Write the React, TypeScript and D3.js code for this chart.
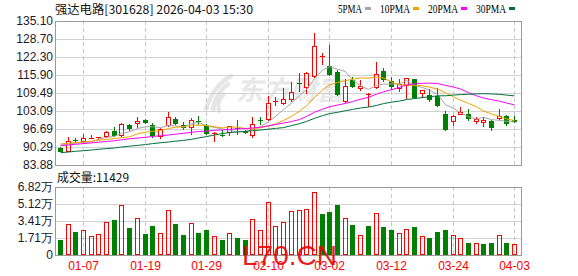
import React from "react";
import * as d3 from "d3";

const title = "强达电路[301628] 2026-04-03 15:30";
const volumeTitle = "成交量:11429";
const watermark = "东方财富";
const siteMark = "L70.CN";

const dates = [
  "12-31",
  "01-05", "01-06", "01-07", "01-08", "01-09",
  "01-12", "01-13", "01-14", "01-15", "01-16",
  "01-19", "01-20", "01-21", "01-22", "01-23",
  "01-26", "01-27", "01-28", "01-29", "01-30",
  "02-02", "02-03", "02-04", "02-05", "02-06",
  "02-09", "02-10", "02-11", "02-12", "02-13",
  "02-24", "02-25", "02-26", "02-27",
  "03-02", "03-03", "03-04", "03-05", "03-06",
  "03-09", "03-10", "03-11", "03-12", "03-13",
  "03-16", "03-17", "03-18", "03-19", "03-20",
  "03-23", "03-24", "03-25", "03-26", "03-27",
  "03-30", "03-31", "04-01", "04-02", "04-03",
];

const opens = [
  90.0, 88.6, 92.8, 91.95, 93.5, 93.6, 93.95, 96.0, 94.3, 98.1,
  98.5, 99.8, 98.0, 93.7, 97.9, 100.2, 98.1, 96.9, 99.5, 97.75,
  94.9, 94.5, 95.2, 96.9, 95.8, 94.3, 100.0, 99.9, 106.2, 105.6,
  107.0, 113.1, 111.2, 115.3, 122.2, 119.1, 117.1, 106.2, 114.1, 110.9,
  109.0, 111.2, 117.3, 113.8, 110.9, 112.1, 114.4, 109.0, 108.8, 108.5,
  101.9, 99.3, 101.8, 101.9, 99.1, 98.7, 99.5, 100.2, 101.3, 99.9,
];
const highs = [
  90.3, 93.7, 93.4, 94.8, 94.5, 94.0, 96.0, 97.5, 98.7, 98.4,
  101.0, 100.3, 98.7, 96.9, 102.6, 100.9, 99.0, 100.5, 101.4, 98.5,
  95.6, 96.3, 97.9, 99.9, 96.4, 101.0, 101.0, 108.4, 108.2, 111.2,
  113.5, 116.5, 117.1, 130.7, 123.6, 126.6, 117.7, 114.4, 115.3, 114.1,
  109.6, 120.6, 118.3, 115.3, 114.4, 114.8, 114.6, 110.6, 110.8, 111.2,
  103.1, 101.5, 104.5, 103.7, 101.1, 101.1, 99.8, 103.7, 101.6, 101.3,
];
const lows = [
  88.4, 88.4, 91.6, 91.35, 93.0, 92.8, 93.4, 93.95, 93.7, 96.0,
  97.0, 98.4, 93.6, 93.1, 97.5, 98.0, 96.3, 94.55, 98.2, 94.55,
  92.0, 93.9, 94.3, 94.6, 95.0, 93.6, 98.1, 99.5, 105.0, 105.2,
  106.4, 110.0, 109.1, 114.7, 119.5, 115.5, 108.4, 106.0, 111.2, 110.3,
  104.4, 111.0, 113.5, 110.6, 110.0, 107.4, 107.4, 107.6, 106.4, 104.4,
  95.8, 97.75, 101.7, 99.65, 98.5, 97.4, 95.8, 99.9, 97.9, 98.7,
];
const closes = [
  88.6, 92.5, 92.3, 93.4, 93.65, 93.75, 95.5, 94.2, 98.45, 96.6,
  99.5, 98.7, 94.3, 96.6, 100.8, 98.5, 96.9, 99.9, 99.1, 95.0,
  95.2, 94.2, 97.6, 96.6, 95.3, 98.5, 99.8, 105.8, 106.5, 107.4,
  110.0, 112.9, 116.5, 126.2, 122.5, 115.9, 108.8, 112.0, 111.7, 111.95,
  109.2, 116.25, 114.1, 111.7, 112.6, 114.7, 107.8, 110.5, 107.0, 105.0,
  96.3, 101.4, 102.6, 100.1, 100.3, 99.9, 97.15, 101.3, 98.5, 99.1,
];
// volume in 万
const volumes = [
  1.52, 3.08, 2.32, 2.52, 1.89, 2.09, 3.28, 3.51, 4.97, 2.72,
  3.68, 2.12, 2.91, 2.19, 4.47, 3.11, 2.02, 3.18, 2.22, 2.52,
  1.89, 1.52, 2.19, 1.72, 1.52, 3.58, 2.48, 5.36, 2.88, 3.28,
  4.37, 4.47, 4.57, 6.36, 4.11, 4.3, 5.0, 3.68, 3.01, 1.99,
  2.91, 4.17, 2.81, 2.52, 2.19, 2.58, 2.81, 1.89, 1.72, 2.32,
  2.52, 1.99, 1.69, 1.23, 1.19, 1.13, 1.23, 1.99, 1.23, 1.14,
];

const ma5 = [
  91.0, 91.3, 91.6, 91.9, 92.09, 93.12, 93.72, 94.1, 95.11, 95.7,
  96.85, 97.49, 97.51, 97.14, 97.98, 97.78, 97.42, 98.54, 99.04, 97.88,
  97.22, 96.68, 96.22, 95.72, 95.78, 96.44, 97.56, 99.2, 101.18, 103.6,
  105.9, 108.52, 110.66, 114.6, 117.62, 118.8, 117.98, 117.08, 114.18, 112.07,
  110.73, 112.22, 112.64, 112.64, 112.77, 113.87, 112.18, 111.46, 110.52, 109.0,
  105.32, 104.04, 102.46, 101.08, 100.14, 100.86, 100.01, 99.75, 99.43, 99.19,
];
const ma10 = [
  91.35, 91.6, 91.85, 92.1, 92.35, 92.67, 93.0, 93.3, 93.6, 93.9,
  94.99, 95.6, 95.8, 96.13, 96.84, 97.32, 97.46, 98.03, 98.09, 97.93,
  97.5, 97.05, 97.38, 97.38, 96.83, 96.83, 97.12, 97.71, 98.45, 99.69,
  101.17, 103.04, 104.93, 107.89, 110.61, 112.35, 113.25, 113.87, 114.39, 114.85,
  114.77, 115.1, 114.86, 113.41, 112.42, 112.3, 112.2, 112.05, 111.58, 110.89,
  109.6, 108.11, 106.96, 105.8, 104.57, 103.09, 102.03, 101.1, 100.26, 99.67,
];
const ma20 = [
  90.74, 90.99, 91.24, 91.49, 91.74, 91.99, 92.24, 92.52, 92.84, 93.2,
  93.48, 93.73, 94.02, 94.3, 94.55, 94.84, 95.16, 95.51, 95.8, 95.91,
  96.24, 96.33, 96.59, 96.75, 96.84, 97.07, 97.29, 97.87, 98.27, 98.81,
  99.34, 100.05, 101.16, 102.64, 103.72, 104.59, 105.19, 105.79, 106.42, 107.27,
  107.97, 109.07, 109.9, 110.65, 111.52, 112.33, 112.73, 112.96, 112.99, 112.87,
  112.18, 111.61, 110.91, 109.61, 108.5, 107.7, 107.11, 106.58, 105.92, 105.28,
];
const ma30 = [
  88.25, 88.5, 88.75, 88.97, 89.21, 89.46, 89.71, 89.93, 90.28, 90.57,
  90.85, 91.14, 91.49, 91.78, 92.06, 92.35, 92.63, 93.02, 93.49, 93.98,
  94.55, 95.08, 95.4, 95.62, 95.83, 96.08, 96.33, 96.62, 96.9, 97.17,
  97.89, 98.57, 99.37, 100.47, 101.43, 102.17, 102.61, 103.2, 103.64, 104.16,
  104.48, 105.06, 105.72, 106.23, 106.62, 107.16, 107.52, 107.88, 108.14, 108.47,
  108.51, 108.75, 108.92, 109.03, 109.2, 109.25, 109.16, 109.01, 108.74, 108.47,
];

const maNames = ["5PMA", "10PMA", "20PMA", "30PMA"];
const maSeries = [ma5, ma10, ma20, ma30];
const maColors = ["#a6a6a6", "#f2a100", "#ff00ff", "#00703a"];

const priceTickLabels = ["135.10", "128.70", "122.30", "115.90", "109.49", "103.09", "96.69", "90.29", "83.88"];
const volTickLabels = ["6.82万", "5.12万", "3.41万", "1.71万", "0"];
const volTickValues = [6.82, 5.115, 3.41, 1.705, 0];
const xTickLabels = ["01-07", "01-19", "01-29", "02-10", "03-02", "03-12", "03-24", "04-03"];

const UP = "#ff0000";
const DOWN = "#008000";

export default function App() {
  const W = 578, H = 276;
  const left = 55, right = 522;
  const mainTop = 21, mainBottom = 165;
  const volTop = 187, volBottom = 255;

  const x = d3.scaleBand<string>().domain(dates).range([56.45, 518.45]);
  const cx = (i: number) => Math.round((x(dates[i]) as number) + x.bandwidth() / 2 - 0.5);
  const y = d3.scaleLinear().domain([83.88, 135.1]).range([mainBottom, mainTop]);
  const yv = d3.scaleLinear().domain([0, 6.82]).range([volBottom, volTop]);

  const line = (arr: number[]) =>
    d3.line<number>().x((_, i) => cx(i) + 0.5).y((v) => y(v))(arr) as string;

  const sans = "'Liberation Sans', Arial, sans-serif";
  const cjk = "'Noto Sans CJK SC', sans-serif";

  // legend layout
  let lx = 338;
  const legend = maNames.map((name, k) => {
    const tw = name.length * 6;
    const item = { name, x: lx, tw, bx: lx + tw + 3, color: maColors[k] };
    lx = lx + tw + 3 + 6 + 9;
    return item;
  });

  return (
    <svg
      width={W}
      height={H}
      viewBox={`0 0 ${W} ${H}`}
      style={{ position: "absolute", left: 0, top: 0, background: "#fff" }}
    >
      <rect x={0} y={0} width={W} height={H} fill="#fff" />

      {/* Title */}
      <text x={55} y={13.5} fontFamily={cjk} fontSize={12} fill="#111" textLength={198} lengthAdjust="spacingAndGlyphs">
        {title}
      </text>

      {/* Legend */}
      {legend.map((it) => (
        <g key={it.name}>
          <text x={it.x} y={12.5} fontFamily="'Liberation Serif', serif" fontSize={12.5} fill="#000" textLength={it.tw} lengthAdjust="spacingAndGlyphs">
            {it.name}
          </text>
          <rect x={it.bx} y={7} width={6} height={3} fill={it.color} />
        </g>
      ))}

      {/* Watermark */}
      <g fill="none" stroke="#e6e6e6" strokeLinecap="round">
        <path d="M231,76 C220,82 210,94 206,110" strokeWidth={4.5} />
        <path d="M228,84 C220,90 214,100 213,110" strokeWidth={4.5} />
        <path d="M224,94 C219,99 217,104 219,111" strokeWidth={4} />
      </g>
      <text x={236} y={100} fontFamily={cjk} fontSize={27} fontWeight="bold" fontStyle="italic" fill="#e8e8e8">
        {watermark}
      </text>

      {/* Main panel grid */}
      {priceTickLabels.map((t) => {
        const yy = Math.round(y(+t)) + 0.5;
        return <line key={"g" + t} x1={left} x2={right} y1={yy} y2={yy} stroke="#d2d2d2" />;
      })}
      {/* Volume grid */}
      {volTickValues.map((v) => {
        const yy = Math.round(yv(v)) + 0.5;
        return <line key={"vg" + v} x1={left} x2={right} y1={yy} y2={yy} stroke="#d2d2d2" />;
      })}
      {/* Vertical dashed grid */}
      {xTickLabels.map((lab) => {
        const xx = cx(dates.indexOf(lab)) + 0.5;
        return (
          <g key={"vd" + lab} stroke="#c8c8c8" strokeDasharray="4,3">
            <line x1={xx} x2={xx} y1={mainTop} y2={mainBottom} />
            <line x1={xx} x2={xx} y1={volTop} y2={volBottom} />
          </g>
        );
      })}

      {/* Frames */}
      <rect x={left + 0.5} y={mainTop + 0.5} width={right - left - 1} height={mainBottom - mainTop} fill="none" stroke="#9a9a9a" />
      <rect x={left + 0.5} y={volTop + 0.5} width={right - left - 1} height={volBottom - volTop} fill="none" stroke="#9a9a9a" />

      {/* Price labels */}
      {priceTickLabels.map((t) => (
        <text key={"pl" + t} x={53} y={y(+t)} dy="0.36em" textAnchor="end" fontFamily={sans} fontSize={12} fill="#1a1a2a">
          {t}
        </text>
      ))}
      {/* Volume labels */}
      {volTickLabels.map((t, k) => (
        <text key={"vl" + t} x={53} y={yv(volTickValues[k])} dy="0.36em" textAnchor="end" fontFamily={sans} fontSize={12} fill="#1a1a2a">
          {t}
        </text>
      ))}

      {/* Candles */}
      {dates.map((d, i) => {
        const o = opens[i], c = closes[i], h = highs[i], l = lows[i];
        const up = c >= o;
        const col = up ? UP : DOWN;
        const px = cx(i);
        const yTop = Math.round(y(Math.max(o, c)));
        const yBot = Math.round(y(Math.min(o, c)));
        const bodyH = Math.max(yBot - yTop, 1);
        const yH = Math.round(y(h));
        const yL = Math.round(y(l));
        return (
          <g key={"c" + d}>
            {yH < yTop && <line x1={px + 0.5} x2={px + 0.5} y1={yH} y2={yTop} stroke={col} />}
            {yL > yTop + bodyH && <line x1={px + 0.5} x2={px + 0.5} y1={yTop + bodyH} y2={yL} stroke={col} />}
            {up ? (
              bodyH <= 2 ? (
                <rect x={px - 2} y={yTop} width={5} height={bodyH} fill={col} />
              ) : (
                <rect x={px - 1.5} y={yTop + 0.5} width={4} height={bodyH - 1} fill="none" stroke={col} />
              )
            ) : (
              <rect x={px - 2} y={yTop} width={5} height={bodyH} fill={col} />
            )}
          </g>
        );
      })}

      {/* Moving averages */}
      {maSeries.map((arr, k) => (
        <path key={"ma" + k} d={line(arr)} fill="none" stroke={maColors[k]} strokeWidth={1} />
      ))}

      {/* Volume title */}
      <text x={57} y={181.5} fontFamily={cjk} fontSize={12} fill="#111" textLength={72} lengthAdjust="spacingAndGlyphs">
        {volumeTitle}
      </text>

      {/* Volume bars */}
      {dates.map((d, i) => {
        const prev = i > 0 ? closes[i - 1] : opens[i];
        const up = closes[i] >= prev;
        const px = cx(i);
        const top = Math.round(yv(volumes[i]));
        const hgt = volBottom - top;
        return up ? (
          <rect key={"v" + d} x={px - 1.5} y={top + 0.5} width={4} height={hgt - 1} fill="none" stroke={UP} />
        ) : (
          <rect key={"v" + d} x={px - 2} y={top} width={5} height={hgt} fill={DOWN} />
        );
      })}

      {/* X labels */}
      {xTickLabels.map((lab) => (
        <text key={"xl" + lab} x={cx(dates.indexOf(lab)) + 0.5} y={270} textAnchor="middle" fontFamily={sans} fontSize={12} fill="#ff0000">
          {lab}
        </text>
      ))}

      {/* Site mark */}
      <text x={242} y={265} fontFamily={sans} fontSize={28} fill="#e60000" fillOpacity={0.9}>
        {siteMark}
      </text>
    </svg>
  );
}
